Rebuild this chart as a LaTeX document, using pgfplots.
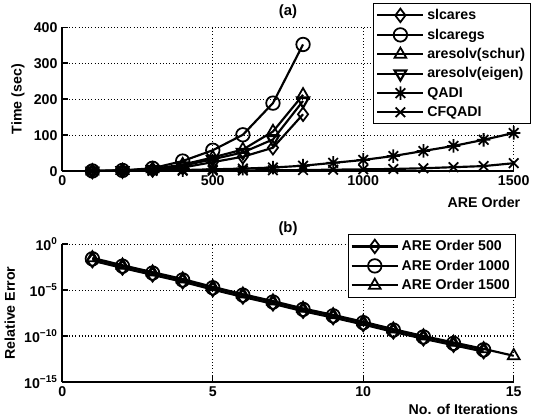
\documentclass[border=0pt]{standalone}
\usepackage{fontspec}
\setmainfont{Liberation Sans}
\usepackage{pgfplots}
\pgfplotsset{compat=1.18}

% MATLAB-like eight-armed asterisk
\pgfdeclareplotmark{star8}{%
  \pgfpathmoveto{\pgfqpoint{0pt}{\pgfplotmarksize}}%
  \pgfpathlineto{\pgfqpoint{0pt}{-\pgfplotmarksize}}%
  \pgfpathmoveto{\pgfqpoint{\pgfplotmarksize}{0pt}}%
  \pgfpathlineto{\pgfqpoint{-\pgfplotmarksize}{0pt}}%
  \pgfpathmoveto{\pgfqpoint{0.707\pgfplotmarksize}{0.707\pgfplotmarksize}}%
  \pgfpathlineto{\pgfqpoint{-0.707\pgfplotmarksize}{-0.707\pgfplotmarksize}}%
  \pgfpathmoveto{\pgfqpoint{0.707\pgfplotmarksize}{-0.707\pgfplotmarksize}}%
  \pgfpathlineto{\pgfqpoint{-0.707\pgfplotmarksize}{0.707\pgfplotmarksize}}%
  \pgfusepathqstroke}

\newcommand{\fsz}{\fontsize{10.5}{12}\selectfont\bfseries}

\pgfplotsset{
  mlab/.style={
    scale only axis,
    width=334pt,
    axis lines=left,
    axis line style={-, line width=1.3pt},
    grid=major,
    grid style={dotted, black, line width=0.8pt},
    tick align=inside,
    tick style={black, line width=1pt},
    tick label style={font=\fsz},
    label style={font=\fsz},
    title style={font=\fontsize{11}{13}\selectfont\bfseries, yshift=-3pt},
    /pgf/number format/assume math mode=true,
    /pgf/number format/1000 sep={},
    cycle list={{black}},
    every axis plot/.append style={black, solid, line width=1.6pt, mark size=5pt,
      mark options={solid, line width=1.3pt}},
    legend style={draw=black, line width=0.6pt, font=\fsz, anchor=north east,
      legend cell align=left, inner sep=2pt, row sep=1.3pt},
    legend image code/.code={%
      \draw[mark repeat=2, mark phase=2] plot coordinates {(0cm,0cm) (0.6cm,0cm) (1.2cm,0cm)};},
  }
}

\begin{document}
\begin{tikzpicture}
\begin{axis}[
  mlab,
  at={(0,0)},
  height=106.5pt,
  xmin=0, xmax=1500, ymin=0, ymax=400,
  xtick={0,500,1000,1500},
  ytick={0,100,200,300,400},
  title={(a)},
  xlabel={ARE Order},
  ylabel={Time (sec)},
  xlabel style={at={(axis description cs:1.025,-0.15)}, anchor=north east},
  legend style={at={(1.038,1.165)}},
]
\addplot[mark=diamond] coordinates {
  (100,0.2) (200,1) (300,4) (400,10) (500,25) (600,40) (700,65) (800,158)};
\addplot[mark=o] coordinates {
  (100,0.5) (200,2) (300,8) (400,28) (500,58) (600,101) (700,189) (800,352)};
\addplot[mark=triangle] coordinates {
  (100,0.3) (200,1.5) (300,6) (400,18) (500,38) (600,60) (700,110) (800,212)};
\addplot[mark=triangle, mark options={rotate=180}] coordinates {
  (100,0.3) (200,1.5) (300,5) (400,15) (500,33) (600,52) (700,88) (800,195)};
\addplot[mark=star8] coordinates {
  (100,0.5) (200,1) (300,2) (400,3) (500,5) (600,7) (700,10) (800,15)
  (900,23) (1000,31) (1100,42) (1200,56) (1300,70) (1400,87) (1500,106)};
\addplot[mark=x] coordinates {
  (100,0.2) (200,0.5) (300,0.8) (400,1.2) (500,1.6) (600,2) (700,2.5) (800,3)
  (900,4) (1000,5) (1100,6) (1200,8) (1300,11) (1400,14) (1500,22)};
\legend{slcares, slcaregs, aresolv(schur), aresolv(eigen), QADI, CFQADI}
\end{axis}

\begin{axis}[
  mlab,
  at={(0,-156pt)},
  height=102pt,
  ymode=log,
  xmin=0, xmax=15, ymin=1e-15, ymax=1,
  xtick={0,5,10,15},
  ytick={1e-15,1e-10,1e-5,1},
  yticklabels={10\textsuperscript{−15}, 10\textsuperscript{−10}, 10\textsuperscript{−5}, 10\textsuperscript{0}},
  yminorticks=false,
  title={(b)},
  xlabel={No. of Iterations},
  ylabel={Relative Error},
  xlabel style={at={(axis description cs:1.02,-0.13)}, anchor=north east},
  legend style={at={(1.004,1.07)}},
]
\addplot[mark=diamond] coordinates {
  (1,1.585e-2) (2,2.512e-3) (3,4.467e-4) (4,7.943e-5) (5,1.122e-5) (6,1.778e-6)
  (7,3.162e-7) (8,5.012e-8) (9,1e-8) (10,1.778e-9) (11,2.818e-10) (12,5.012e-11)
  (13,1e-11) (14,1.995e-12)};
\addplot[mark=o] coordinates {
  (1,2.512e-2) (2,3.981e-3) (3,7.079e-4) (4,1.259e-4) (5,1.778e-5) (6,2.818e-6)
  (7,5.012e-7) (8,7.943e-8) (9,1.585e-8) (10,2.818e-9) (11,4.467e-10) (12,7.943e-11)
  (13,1.585e-11) (14,3.162e-12)};
\addplot[mark=triangle] coordinates {
  (1,3.162e-2) (2,5.012e-3) (3,8.913e-4) (4,1.585e-4) (5,2.239e-5) (6,3.548e-6)
  (7,6.310e-7) (8,1e-7) (9,1.995e-8) (10,3.548e-9) (11,5.623e-10) (12,1e-10)
  (13,1.995e-11) (14,3.981e-12) (15,7.079e-13)};
\legend{ARE Order 500, ARE Order 1000, ARE Order 1500}
\end{axis}
\end{tikzpicture}
\end{document}
